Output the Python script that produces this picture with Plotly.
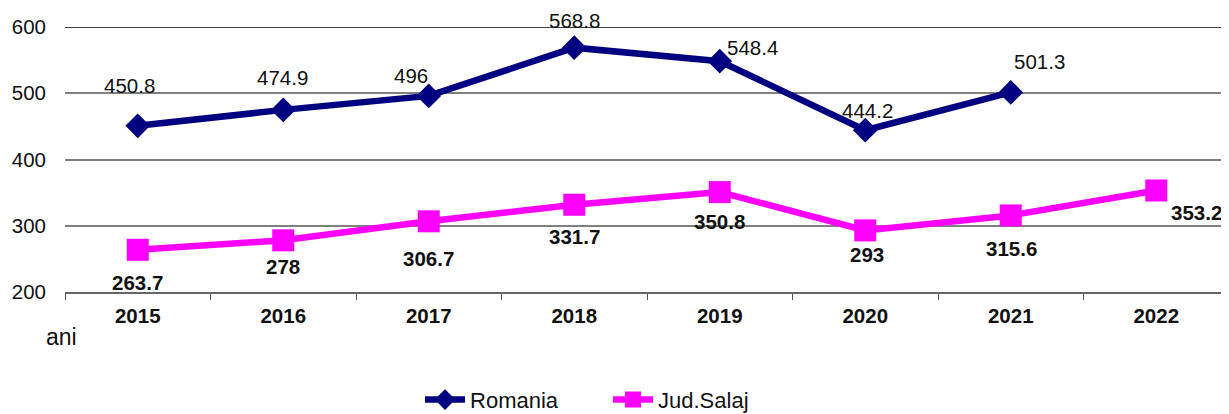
import plotly.graph_objects as go

years = ["2015", "2016", "2017", "2018", "2019", "2020", "2021", "2022"]
romania = [450.8, 474.9, 496, 568.8, 548.4, 444.2, 501.3, None]
salaj = [263.7, 278, 306.7, 331.7, 350.8, 293, 315.6, 353.2]
y_ticks = [200, 300, 400, 500, 600]

FONT = "Liberation Sans, Arial, sans-serif"
FS = 20.5

# label offsets in pixels (style only)
rom_off = [(-8, 40), (-1, 32), (-18, 20), (0, 27), (33, 14), (2, 20), (29, 31)]
sal_off = [(0, -33), (0, -26), (0, -37), (0, -32), (0, -29), (2, -24), (1, -33), (40, -22)]

fig = go.Figure()
fig.add_trace(go.Scatter(
    x=years, y=romania, name="Romania", mode="lines+markers",
    line=dict(color="#000080", width=6.5),
    marker=dict(symbol="diamond", size=19, color="#000080"),
    connectgaps=False,
))
fig.add_trace(go.Scatter(
    x=years, y=salaj, name="Jud.Salaj", mode="lines+markers",
    line=dict(color="#FF00FF", width=6.5),
    marker=dict(symbol="square", size=22, color="#FF00FF"),
))

for i, v in enumerate(romania):
    if v is None:
        continue
    dx, dy = rom_off[i]
    fig.add_annotation(x=i, y=v, text=f"{v:g}", showarrow=False,
                       xshift=dx, yshift=dy, borderpad=0,
                       font=dict(family=FONT, size=FS, color="#111"))
for i, v in enumerate(salaj):
    dx, dy = sal_off[i]
    fig.add_annotation(x=i, y=v, text=f"<b>{v:g}</b>", showarrow=False,
                       xshift=dx, yshift=dy, borderpad=0,
                       font=dict(family=FONT, size=FS, color="#111"))

fig.add_annotation(xref="paper", yref="paper", x=-0.003, y=-0.17,
                   xanchor="center", yanchor="middle", text="ani", showarrow=False,
                   font=dict(family=FONT, size=23, color="#111"))

fig.add_shape(type="line", xref="paper", yref="y", x0=0, x1=1, y0=600, y1=600,
              line=dict(color="#000", width=1.5), layer="below")

fig.update_layout(
    width=1221, height=406,
    margin=dict(l=57, r=0, t=19, b=121.5, autoexpand=False),
    paper_bgcolor="white", plot_bgcolor="white",
    font=dict(family=FONT, size=FS, color="#111"),
    showlegend=True,
    legend=dict(orientation="h", x=0.305, xanchor="left",
                yref="container", y=0.035, yanchor="middle",
                font=dict(family=FONT, size=22, color="#111"),
                itemwidth=40, tracegroupgap=0,
                entrywidth=133, entrywidthmode="pixels"),
    xaxis=dict(
        type="category", range=[-0.5, 7.5], showgrid=False, automargin=False,
        tickson="boundaries", ticks="outside", ticklen=6, tickcolor="#555",
        showline=True, linecolor="#666", linewidth=1.5,
        tickfont=dict(family=FONT, size=FS, color="#111", weight="bold"),
        ticklabelstandoff=5,
    ),
    yaxis=dict(
        range=[200, 600], tickvals=y_ticks, showgrid=True, automargin=False,
        gridcolor="#808080", gridwidth=1.5, zeroline=False, showline=False,
        ticks="", ticklabelstandoff=18,
        tickfont=dict(family=FONT, size=FS, color="#111"),
    ),
)

fig.write_html("out.html")
